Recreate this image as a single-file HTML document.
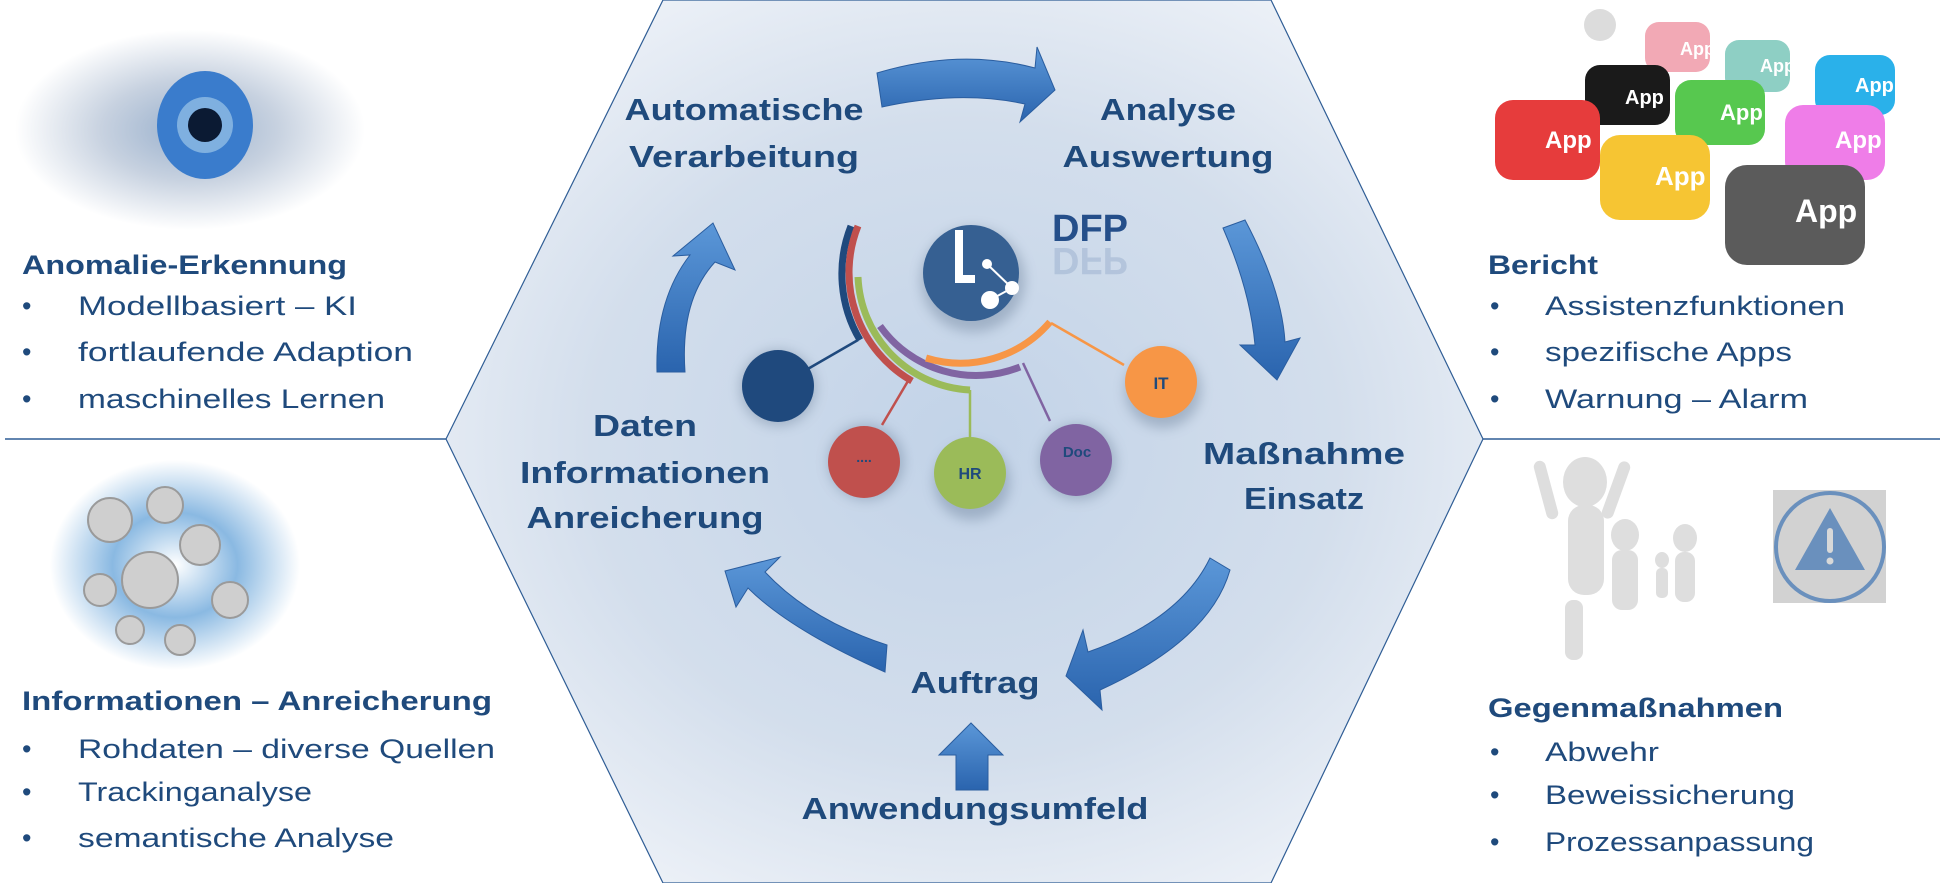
<!DOCTYPE html>
<html><head><meta charset="utf-8"><style>
html,body{margin:0;padding:0;background:#fff;}
svg{display:block;}
text{font-family:"Liberation Sans",sans-serif;fill:#1f4a7c;}
.b{font-weight:bold;}
</style></head><body>
<svg width="1943" height="883" viewBox="0 0 1943 883" xmlns="http://www.w3.org/2000/svg">
<defs>
<radialGradient id="hex" cx="0.5" cy="0.5" r="0.6">
<stop offset="0" stop-color="#c2d3e8"/><stop offset="0.6" stop-color="#d3deec"/><stop offset="1" stop-color="#eef2f8"/>
</radialGradient>
<linearGradient id="arr" x1="0" y1="0" x2="0" y2="1">
<stop offset="0" stop-color="#5b97d8"/><stop offset="1" stop-color="#2a64ae"/>
</linearGradient>
<radialGradient id="eye" cx="0.5" cy="0.5" r="0.5">
<stop offset="0" stop-color="#7f9cc0"/><stop offset="0.5" stop-color="#b9c6d8"/><stop offset="1" stop-color="#ffffff"/>
</radialGradient>
<radialGradient id="burst" cx="0.5" cy="0.5" r="0.5">
<stop offset="0" stop-color="#ffffff"/><stop offset="0.5" stop-color="#8ab9e2"/><stop offset="1" stop-color="#ffffff"/>
</radialGradient>
<filter id="sh" x="-30%" y="-30%" width="160%" height="160%"><feGaussianBlur stdDeviation="6"/></filter>
</defs>

<polygon points="663,0 1271,0 1483,439 1271,883 663,883 446,439" fill="url(#hex)" stroke="#2f5d95" stroke-width="1.2"/>
<line x1="5" y1="439" x2="446" y2="439" stroke="#2f5d95" stroke-width="1.5"/>
<line x1="1483" y1="439" x2="1940" y2="439" stroke="#2f5d95" stroke-width="1.5"/>

<ellipse cx="190" cy="130" rx="175" ry="100" fill="url(#eye)" opacity="0.8"/>
<ellipse cx="205" cy="125" rx="48" ry="54" fill="#3a7ccc"/>
<circle cx="205" cy="125" r="28" fill="#7fb0e0"/>
<circle cx="205" cy="125" r="17" fill="#0b1a33"/>
<ellipse cx="175" cy="565" rx="125" ry="105" fill="url(#burst)"/>
<g fill="#cfcfcf" stroke="#9a9a9a" stroke-width="2">
<circle cx="110" cy="520" r="22"/><circle cx="165" cy="505" r="18"/><circle cx="200" cy="545" r="20"/><circle cx="150" cy="580" r="28"/><circle cx="100" cy="590" r="16"/><circle cx="230" cy="600" r="18"/><circle cx="180" cy="640" r="15"/><circle cx="130" cy="630" r="14"/>
</g>
<g>
<rect x="1645" y="22" width="65" height="50" rx="14" fill="#f2a9b5"/>
<rect x="1725" y="40" width="65" height="52" rx="14" fill="#8ecfc4"/>
<rect x="1815" y="55" width="80" height="60" rx="15" fill="#2ab1ea"/>
<rect x="1585" y="65" width="85" height="60" rx="15" fill="#1a1a1a"/>
<rect x="1675" y="80" width="90" height="65" rx="16" fill="#57c84f"/>
<rect x="1785" y="105" width="100" height="75" rx="18" fill="#ef7de8"/>
<rect x="1495" y="100" width="105" height="80" rx="18" fill="#e63c3c"/>
<rect x="1600" y="135" width="110" height="85" rx="20" fill="#f6c533"/>
<rect x="1725" y="165" width="140" height="100" rx="22" fill="#5b5b5b"/>
<text x="1680" y="55" font-size="18" style="fill:#fff" class="b">App</text>
<text x="1760" y="72" font-size="18" style="fill:#fff" class="b">App</text>
<text x="1855" y="92" font-size="20" style="fill:#fff" class="b">App</text>
<text x="1625" y="104" font-size="20" style="fill:#fff" class="b">App</text>
<text x="1720" y="120" font-size="22" style="fill:#fff" class="b">App</text>
<text x="1835" y="148" font-size="24" style="fill:#fff" class="b">App</text>
<text x="1545" y="148" font-size="24" style="fill:#fff" class="b">App</text>
<text x="1655" y="185" font-size="26" style="fill:#fff" class="b">App</text>
<text x="1795" y="222" font-size="32" style="fill:#fff" class="b">App</text>
<circle cx="1600" cy="25" r="16" fill="#dcdcdc"/>
</g>
<g fill="#dedede">
<ellipse cx="1585" cy="482" rx="22" ry="25"/><rect x="1568" y="505" width="36" height="90" rx="16"/>
<rect x="1565" y="600" width="18" height="60" rx="8"/><rect x="1540" y="460" width="12" height="60" rx="6" transform="rotate(-15 1546 490)"/><rect x="1610" y="460" width="12" height="60" rx="6" transform="rotate(20 1616 490)"/>
<ellipse cx="1625" cy="535" rx="14" ry="16"/><rect x="1612" y="550" width="26" height="60" rx="10"/>
<ellipse cx="1685" cy="538" rx="12" ry="14"/><rect x="1675" y="552" width="20" height="50" rx="9"/>
<ellipse cx="1662" cy="560" rx="7" ry="8"/><rect x="1656" y="568" width="12" height="30" rx="5"/>
</g>
<rect x="1758" y="474" width="144" height="140" rx="22" fill="#ffffff" filter="url(#sh)" opacity="0.6"/>
<rect x="1758" y="474" width="144" height="140" rx="22" fill="#ffffff"/>
<rect x="1773" y="490" width="113" height="113" fill="#d2d2d2"/>
<circle cx="1830" cy="547" r="54" fill="none" stroke="#6a90bd" stroke-width="4"/>
<polygon points="1830,508 1795,570 1865,570" fill="#6a90bd"/>
<rect x="1827" y="528" width="6" height="25" rx="3" fill="#d8d8d8"/><circle cx="1830" cy="561" r="3.5" fill="#d8d8d8"/>

<g fill="url(#arr)" stroke="#2a5d9f" stroke-width="1">
<path d="M877,73 Q960,48 1035,68 L1037,47 L1055,90 L1020,122 L1025,104 Q960,90 882,107 Z"/>
<path d="M1223,228 L1245,220 Q1282,290 1285,342 L1300,338 L1277,380 L1240,345 L1255,345 Q1250,290 1223,228 Z"/>
<path d="M1210,558 L1230,570 Q1210,640 1100,690 L1102,710 L1066,676 L1083,630 L1088,652 Q1180,620 1210,558 Z"/>
<path d="M887,645 L885,672 Q790,630 748,588 L736,607 L725,571 L780,557 L765,572 Q810,620 887,645 Z"/>
<path d="M657,372 L685,372 Q680,300 715,262 L735,270 L713,223 L673,256 L690,255 Q655,300 657,372 Z"/>
<path d="M939,755 L971,723 L1003,755 L988,755 L988,790 L956,790 L956,755 Z"/>
</g>

<g filter="url(#sh)" opacity="0.35" fill="#556b85">
<circle cx="778" cy="388" r="38"/><circle cx="866" cy="462" r="38"/><circle cx="972" cy="482" r="38"/><circle cx="1078" cy="462" r="38"/><circle cx="1163" cy="390" r="38"/><circle cx="973" cy="280" r="52"/>
</g>
<g fill="none" stroke-width="7">
<path d="M851,226 A130,130 0 0 0 860,340" stroke="#1f497d"/>
<path d="M858,226 A125,125 0 0 0 912,381" stroke="#c0504d"/>
<path d="M858,277 A118,118 0 0 0 970,390" stroke="#9bbb59"/>
<path d="M880,326 A118,118 0 0 0 1020,367" stroke="#8064a2"/>
<path d="M926,358 A118,118 0 0 0 1050,322" stroke="#f79646"/>
</g>
<g stroke-width="2.5">
<line x1="858" y1="340" x2="806" y2="370" stroke="#1f497d"/>
<line x1="908" y1="381" x2="882" y2="425" stroke="#c0504d"/>
<line x1="970" y1="390" x2="970" y2="437" stroke="#9bbb59"/>
<line x1="1023" y1="363" x2="1050" y2="421" stroke="#8064a2"/>
<line x1="1051" y1="323" x2="1124" y2="365" stroke="#f79646"/>
</g>
<circle cx="778" cy="386" r="36" fill="#1f497d"/>
<circle cx="864" cy="462" r="36" fill="#c0504d"/>
<circle cx="970" cy="473" r="36" fill="#9bbb59"/>
<circle cx="1076" cy="460" r="36" fill="#8064a2"/>
<circle cx="1161" cy="382" r="36" fill="#f79646"/>
<text x="864" y="462" font-size="14" text-anchor="middle" class="b">....</text>
<text x="970" y="479" font-size="16" text-anchor="middle" class="b">HR</text>
<text x="1077" y="457" font-size="15" text-anchor="middle" class="b">Doc</text>
<text x="1161" y="389" font-size="17" text-anchor="middle" class="b">IT</text>
<circle cx="971" cy="273" r="48" fill="#366092"/>
<path d="M955,230 h8 v45 h12 v8 h-20 Z" fill="#fff"/>
<line x1="987" y1="264" x2="1012" y2="288" stroke="#fff" stroke-width="2"/>
<line x1="990" y1="300" x2="1012" y2="288" stroke="#fff" stroke-width="2"/>
<circle cx="987" cy="264" r="5" fill="#fff"/><circle cx="1012" cy="288" r="7" fill="#fff"/><circle cx="990" cy="300" r="9" fill="#fff"/>
<text x="1052" y="241" font-size="38" class="b" style="fill:#254f8a">DFP</text>
<text x="1052" y="248" font-size="38" class="b" style="fill:#254f8a" opacity="0.15" transform="translate(0,496) scale(1,-1)">DFP</text>

<g class="b" font-size="31" text-anchor="middle">
<text class="b" x="744" y="120" textLength="239" lengthAdjust="spacingAndGlyphs">Automatische</text>
<text class="b" x="744" y="167" textLength="230" lengthAdjust="spacingAndGlyphs">Verarbeitung</text>
<text class="b" x="1168" y="120" textLength="136" lengthAdjust="spacingAndGlyphs">Analyse</text>
<text class="b" x="1168" y="167" textLength="211" lengthAdjust="spacingAndGlyphs">Auswertung</text>
<text class="b" x="645" y="436" textLength="104" lengthAdjust="spacingAndGlyphs">Daten</text>
<text class="b" x="645" y="483" textLength="250" lengthAdjust="spacingAndGlyphs">Informationen</text>
<text class="b" x="645" y="528" textLength="237" lengthAdjust="spacingAndGlyphs">Anreicherung</text>
<text class="b" x="1304" y="464" textLength="202" lengthAdjust="spacingAndGlyphs">Maßnahme</text>
<text class="b" x="1304" y="509" textLength="120" lengthAdjust="spacingAndGlyphs">Einsatz</text>
<text class="b" x="975" y="693" textLength="129" lengthAdjust="spacingAndGlyphs">Auftrag</text>
<text class="b" x="975" y="819" textLength="347" lengthAdjust="spacingAndGlyphs">Anwendungsumfeld</text>
</g>

<g font-size="27">
<text class="b" x="22" y="274" textLength="325" lengthAdjust="spacingAndGlyphs">Anomalie-Erkennung</text>
<text x="22" y="315">•</text><text x="78" y="315" textLength="279" lengthAdjust="spacingAndGlyphs">Modellbasiert – KI</text>
<text x="22" y="361">•</text><text x="78" y="361" textLength="335" lengthAdjust="spacingAndGlyphs">fortlaufende Adaption</text>
<text x="22" y="408">•</text><text x="78" y="408" textLength="307" lengthAdjust="spacingAndGlyphs">maschinelles Lernen</text>

<text class="b" x="22" y="710" textLength="470" lengthAdjust="spacingAndGlyphs">Informationen – Anreicherung</text>
<text x="22" y="758">•</text><text x="78" y="758" textLength="417" lengthAdjust="spacingAndGlyphs">Rohdaten – diverse Quellen</text>
<text x="22" y="801">•</text><text x="78" y="801" textLength="234" lengthAdjust="spacingAndGlyphs">Trackinganalyse</text>
<text x="22" y="847">•</text><text x="78" y="847" textLength="316" lengthAdjust="spacingAndGlyphs">semantische Analyse</text>

<text class="b" x="1488" y="274" textLength="110" lengthAdjust="spacingAndGlyphs">Bericht</text>
<text x="1490" y="315">•</text><text x="1545" y="315" textLength="300" lengthAdjust="spacingAndGlyphs">Assistenzfunktionen</text>
<text x="1490" y="361">•</text><text x="1545" y="361" textLength="247" lengthAdjust="spacingAndGlyphs">spezifische Apps</text>
<text x="1490" y="408">•</text><text x="1545" y="408" textLength="263" lengthAdjust="spacingAndGlyphs">Warnung – Alarm</text>

<text class="b" x="1488" y="717" textLength="295" lengthAdjust="spacingAndGlyphs">Gegenmaßnahmen</text>
<text x="1490" y="761">•</text><text x="1545" y="761" textLength="114" lengthAdjust="spacingAndGlyphs">Abwehr</text>
<text x="1490" y="804">•</text><text x="1545" y="804" textLength="250" lengthAdjust="spacingAndGlyphs">Beweissicherung</text>
<text x="1490" y="851">•</text><text x="1545" y="851" textLength="269" lengthAdjust="spacingAndGlyphs">Prozessanpassung</text>
</g>
</svg>
</body></html>
